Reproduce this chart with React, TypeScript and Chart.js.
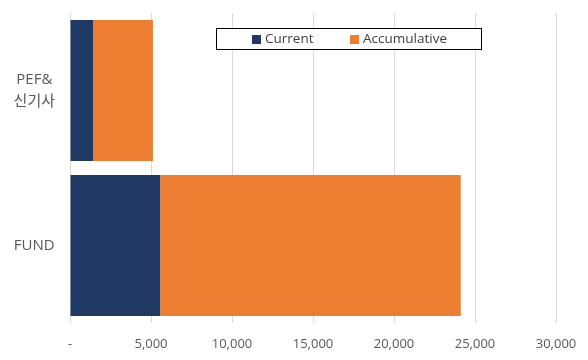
import React, { useEffect, useRef } from "react";
import { Chart, registerables } from "chart.js";

Chart.register(...registerables);

const categories: (string | string[])[] = [["PEF&", "신기사"], "FUND"];
const currentValues = [1420, 5570];
const accumulativeValues = [3700, 18550];
const seriesNames = ["Current", "Accumulative"];
const seriesColors = ["#203864", "#ED7D31"];
const xMax = 30000;
const xStep = 5000;

const FONT = "'Segoe UI', 'Open Sans', 'Noto Sans CJK KR', sans-serif";

const legendPlugin = {
  id: "insideLegend",
  afterDraw(chart: any) {
    const ctx = chart.ctx as CanvasRenderingContext2D;
    ctx.save();
    ctx.fillStyle = "#ffffff";
    ctx.fillRect(216, 28.5, 266, 21);
    ctx.strokeStyle = "#000000";
    ctx.lineWidth = 1;
    ctx.strokeRect(216.5, 28.5, 265, 21);
    ctx.font = `13.5px ${FONT}`;
    ctx.textBaseline = "middle";
    const items = [
      { x: 252, tx: 265 },
      { x: 350, tx: 363 },
    ];
    chart.data.datasets.forEach((ds: any, i: number) => {
      const it = items[i];
      ctx.fillStyle = ds.backgroundColor;
      ctx.fillRect(it.x, 35, 9, 9);
      ctx.fillStyle = "#404040";
      ctx.fillText(ds.label, it.tx, 39.5);
    });
    ctx.restore();
  },
};

export default function App() {
  const ref = useRef<HTMLCanvasElement | null>(null);
  useEffect(() => {
    document.body.style.margin = "0";
    const chart = new Chart(ref.current!, {
      type: "bar",
      data: {
        labels: categories as any,
        datasets: [
          {
            label: seriesNames[0],
            data: currentValues,
            backgroundColor: seriesColors[0],
            categoryPercentage: 0.91,
            barPercentage: 1,
          },
          {
            label: seriesNames[1],
            data: accumulativeValues,
            backgroundColor: seriesColors[1],
            categoryPercentage: 0.91,
            barPercentage: 1,
          },
        ],
      },
      options: {
        indexAxis: "y",
        animation: false,
        responsive: false,
        maintainAspectRatio: false,
        layout: { padding: { left: 8, right: 32, top: 13, bottom: 0 } },
        plugins: { legend: { display: false }, tooltip: { enabled: false } },
        scales: {
          x: {
            stacked: true,
            min: 0,
            max: xMax,
            ticks: {
              stepSize: xStep,
              color: "#595959",
              font: { size: 13, family: FONT },
              padding: 13,
              maxRotation: 0,
              callback: (v: any) => (Number(v) === 0 ? "-" : Number(v).toLocaleString("en-US")),
            },
            grid: { color: "#D9D9D9", drawTicks: false },
            border: { display: false },
            afterFit: (s: any) => {
              s.height = 37;
              s.paddingLeft = 0;
              s.paddingRight = 0;
            },
          },
          y: {
            stacked: true,
            ticks: {
              color: "#595959",
              font: { size: 15, family: FONT, lineHeight: 1.45 },
              padding: 15,
              crossAlign: "center",
            },
            grid: { display: false, drawTicks: false },
            border: { display: false },
            afterFit: (s: any) => {
              s.width = 62;
              s.paddingTop = 0;
              s.paddingBottom = 0;
            },
          },
        },
      },
      plugins: [legendPlugin],
    });
    return () => chart.destroy();
  }, []);
  return <canvas ref={ref} width={588} height={360} style={{ display: "block" }} />;
}
